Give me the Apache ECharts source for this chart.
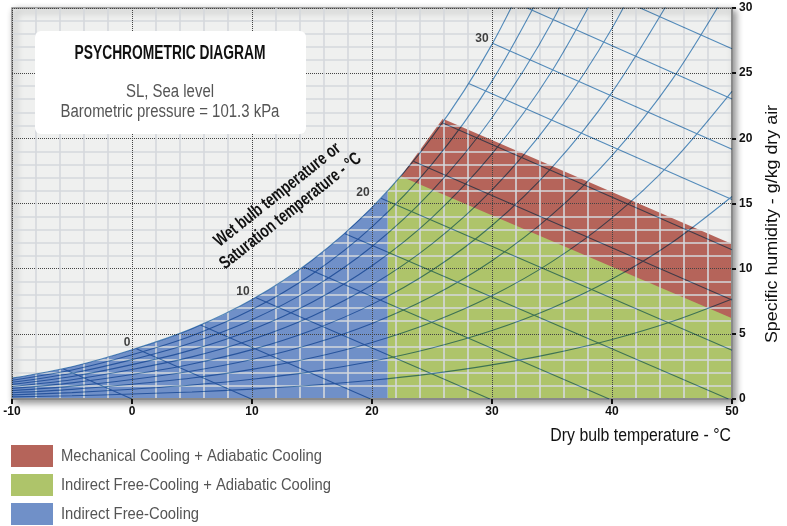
<!DOCTYPE html>
<html><head><meta charset="utf-8">
<script src="https://cdn.jsdelivr.net/npm/echarts@6/dist/echarts.min.js"></script>
<style>
html,body{margin:0;padding:0;background:#fff}
#wrap{position:relative;width:787px;height:526px}
#c,#o{position:absolute;left:0;top:0;width:787px;height:526px}
#o{mix-blend-mode:multiply;pointer-events:none}
</style>
</head><body><div id="wrap"><div id="c"></div><div id="o"></div></div>
<script>
// ---------- DATA ----------
const temps = [-10, -5, 0, 5, 10, 15, 20, 25, 30, 35, 40, 45, 50];          // dry bulb °C
const satW  = [1.60, 2.48, 3.78, 5.40, 7.63, 10.65, 14.70, 20.09, 27.21, 36.59]; // saturation g/kg
const rh90 = [1.44, 2.23, 3.40, 4.86, 6.86, 9.57, 13.20, 18.02, 24.39, 32.74];
const rh80 = [1.28, 1.98, 3.02, 4.32, 6.09, 8.49, 11.70, 15.97, 21.58, 28.93, 38.51];
const rh70 = [1.12, 1.73, 2.64, 3.77, 5.32, 7.42, 10.22, 13.92, 18.80, 25.17, 33.44];
const rh60 = [0.96, 1.48, 2.26, 3.23, 4.56, 6.35, 8.74, 11.90, 16.04, 21.45, 28.44, 37.47];
const rh50 = [0.80, 1.24, 1.88, 2.69, 3.79, 5.28, 7.26, 9.88, 13.31, 17.77, 23.53, 30.92];
const rh40 = [0.64, 0.99, 1.50, 2.15, 3.03, 4.22, 5.80, 7.88, 10.61, 14.14, 18.68, 24.49, 31.89];
const rh30 = [0.48, 0.74, 1.13, 1.61, 2.27, 3.16, 4.34, 5.89, 7.92, 10.54, 13.90, 18.19, 23.61];
const rh20 = [0.32, 0.49, 0.75, 1.07, 1.51, 2.10, 2.89, 3.92, 5.26, 6.99, 9.20, 12.01, 15.54];
const rh10 = [0.16, 0.25, 0.38, 0.54, 0.76, 1.05, 1.44, 1.95, 2.62, 3.48, 4.57, 5.95, 7.68];

// straight wet-bulb / enthalpy lines: start and end (T °C, w g/kg)
const wbStartT = [-5.75, 0.32, 5.70, 10.30, 14.26, 17.71, 20.74, 23.44, 25.86, 28.06, 30.05, 32.93, 42.35];
const wbStartW = [2.32, 3.87, 5.68, 7.79, 10.15, 12.70, 15.41, 18.24, 21.20, 24.20, 27.30, 30.00, 30.00];
const wbEndT   = [0, 9.94, 19.88, 29.82, 39.76, 49.70, 50, 50, 50, 50, 50, 50, 50];
const wbEndW   = [0, 0, 0, 0, 0, 0, 3.74, 7.59, 11.45, 15.31, 19.16, 23.01, 26.87];

// wet bulb labels on the saturation curve
const wbLabelT = [0, 10, 20, 30];
const wbLabelW = [3.78, 7.63, 14.70, 27.21];
const wbLabelText = ['0', '10', '20', '30'];

// cooling regions
const zoneBlueT  = [-10, -5, 0, 5, 10, 15, 20, 21.3];
const zoneBlueW  = [1.60, 2.48, 3.78, 5.40, 7.63, 10.65, 14.70, 15.96];
const zoneGreenT = [21.3, 22.4, 50];
const zoneGreenW = [15.96, 17.10, 6.20];
const zoneRedT   = [22.4, 25.9, 50];
const zoneRedW   = [17.10, 21.50, 11.90];

const legendNames = ['Mechanical Cooling + Adiabatic Cooling', 'Indirect Free-Cooling + Adiabatic Cooling', 'Indirect Free-Cooling'];

// ---------- STYLE ----------
const F = "'Liberation Sans',Arial,sans-serif";
const C_RED = '#b5645a', C_GREEN = '#aec46a', C_BLUE = '#7090c8';
const C_LINE = '#5a95c8';
const labelOffsets = [[-5, -7], [-9, -8], [-9, -15], [-10, -6]];

const zip = (xs, ys) => xs.slice(0, ys.length).map((x, i) => [x, ys[i]]);

const GRID = {left: 12, right: 55, top: 8, bottom: 127};

const axisCommon = {
  z: 3,
  axisLine: {show: true, onZero: false, lineStyle: {color: '#8a8a8a', width: 2}},
  axisTick: {show: true, length: 5, lineStyle: {color: '#111', width: 2}},
  axisLabel: {color: '#111', fontWeight: 'bold', fontSize: 12, fontFamily: F, margin: 7},
  splitLine: {show: true, lineStyle: {color: '#444', type: 'dotted', width: 1}},
  minorTick: {show: false, splitNumber: 5},
  minorSplitLine: {show: true, lineStyle: {color: '#d5d8dc', width: 1.6}}
};

const chart = echarts.init(document.getElementById('c'));
chart.setOption({
  animation: false,
  backgroundColor: '#ffffff',
  grid: Object.assign({show: true, backgroundColor: '#eff0ef', borderColor: '#8a8a8a', borderWidth: 1.5,
    shadowColor: 'rgba(0,0,0,0.45)', shadowBlur: 7, shadowOffsetX: 3, shadowOffsetY: 3}, GRID),
  xAxis: Object.assign({}, axisCommon, {type: 'value', min: -10, max: 50, interval: 10, position: 'bottom'}),
  yAxis: Object.assign({}, axisCommon, {
    type: 'value', min: 0, max: 30, interval: 5, position: 'right',
    axisTick: {show: true, length: 4, lineStyle: {color: '#111', width: 2}}
  }),
  series: [
    {type: 'line', name: legendNames[0], data: zip(zoneRedT, zoneRedW), symbol: 'none', silent: true, z: 1,
     lineStyle: {width: 0}, areaStyle: {color: C_RED, opacity: 1}},
    {type: 'line', name: legendNames[1], data: zip(zoneGreenT, zoneGreenW), symbol: 'none', silent: true, z: 1,
     lineStyle: {width: 0}, areaStyle: {color: C_GREEN, opacity: 1}},
    {type: 'line', name: legendNames[2], data: zip(zoneBlueT, zoneBlueW), symbol: 'none', smooth: true, silent: true, z: 1,
     lineStyle: {width: 0}, areaStyle: {color: C_BLUE, opacity: 1}},
    {type: 'scatter', silent: true, z: 6, symbolSize: 1, itemStyle: {color: 'rgba(0,0,0,0)'},
     data: wbLabelT.map((t, i) => ({value: [t, wbLabelW[i]], label: {offset: labelOffsets[i]}})),
     label: {show: true, position: 'inside', formatter: p => wbLabelText[p.dataIndex],
             color: '#111', fontWeight: 'bold', fontSize: 12, fontFamily: F}}
  ],
  graphic: [
    {type: 'rect', z: 100, shape: {x: 35, y: 31, width: 271, height: 103, r: 6}, style: {fill: '#ffffff'}},
    {type: 'text', z: 101, x: 170, y: 53, scaleX: 0.69, style: {text: 'PSYCHROMETRIC DIAGRAM', align: 'center', verticalAlign: 'middle',
      fontFamily: F, fontWeight: 'bold', fontSize: 20, fill: '#111'}},
    {type: 'text', z: 101, x: 170, y: 92, scaleX: 0.83, style: {text: 'SL, Sea level', align: 'center', verticalAlign: 'middle',
      fontFamily: F, fontSize: 18, fill: '#555'}},
    {type: 'text', z: 101, x: 170, y: 112, scaleX: 0.83, style: {text: 'Barometric pressure = 101.3 kPa', align: 'center', verticalAlign: 'middle',
      fontFamily: F, fontSize: 18, fill: '#555'}},
    {type: 'text', z: 101, x: 284, y: 203, rotation: 0.672, scaleX: 0.75, style: {text: 'Wet bulb temperature or\nSaturation temperature - °C',
      align: 'center', verticalAlign: 'middle', lineHeight: 21, fontFamily: F, fontWeight: 'bold', fontSize: 18, fill: '#111'}},
    {type: 'text', z: 101, x: 731, y: 436, scaleX: 0.88, style: {text: 'Dry bulb temperature - °C', align: 'right', verticalAlign: 'middle',
      fontFamily: F, fontSize: 18, fill: '#111'}},
    {type: 'text', z: 101, x: 772, y: 224, rotation: Math.PI / 2, scaleX: 1.05, style: {text: 'Specific humidity - g/kg dry air',
      align: 'center', verticalAlign: 'middle', fontFamily: F, fontSize: 17, fill: '#111'}},
    {type: 'rect', shape: {x: 11, y: 445, width: 42, height: 22}, style: {fill: C_RED}},
    {type: 'rect', shape: {x: 11, y: 474, width: 42, height: 22}, style: {fill: C_GREEN}},
    {type: 'rect', shape: {x: 11, y: 503, width: 42, height: 22}, style: {fill: C_BLUE}},
    {type: 'text', x: 61, y: 456, scaleX: 0.87, style: {text: legendNames[0], verticalAlign: 'middle', fontFamily: F, fontSize: 17, fill: '#555'}},
    {type: 'text', x: 61, y: 485, scaleX: 0.87, style: {text: legendNames[1], verticalAlign: 'middle', fontFamily: F, fontSize: 17, fill: '#555'}},
    {type: 'text', x: 61, y: 514, scaleX: 0.87, style: {text: legendNames[2], verticalAlign: 'middle', fontFamily: F, fontSize: 17, fill: '#555'}}
  ]
});

// ---------- psychrometric lines, multiplied over the zones ----------
const lineSeries = [];
[satW, rh90, rh80, rh70, rh60, rh50, rh40, rh30, rh20, rh10].forEach(a => lineSeries.push({
  type: 'line', data: zip(temps, a), smooth: 0.3, symbol: 'none', silent: true, clip: true,
  lineStyle: {color: C_LINE, width: 1.1}
}));
wbStartT.forEach((t, i) => lineSeries.push({
  type: 'line', data: [[t, wbStartW[i]], [wbEndT[i], wbEndW[i]]], symbol: 'none', silent: true, clip: true,
  lineStyle: {color: C_LINE, width: 1.1}
}));

const overlay = echarts.init(document.getElementById('o'));
overlay.setOption({
  animation: false,
  backgroundColor: 'transparent',
  grid: Object.assign({show: false}, GRID),
  xAxis: {type: 'value', min: -10, max: 50, interval: 10, show: false},
  yAxis: {type: 'value', min: 0, max: 30, interval: 5, position: 'right', show: false},
  series: lineSeries
});
</script>
</body></html>
